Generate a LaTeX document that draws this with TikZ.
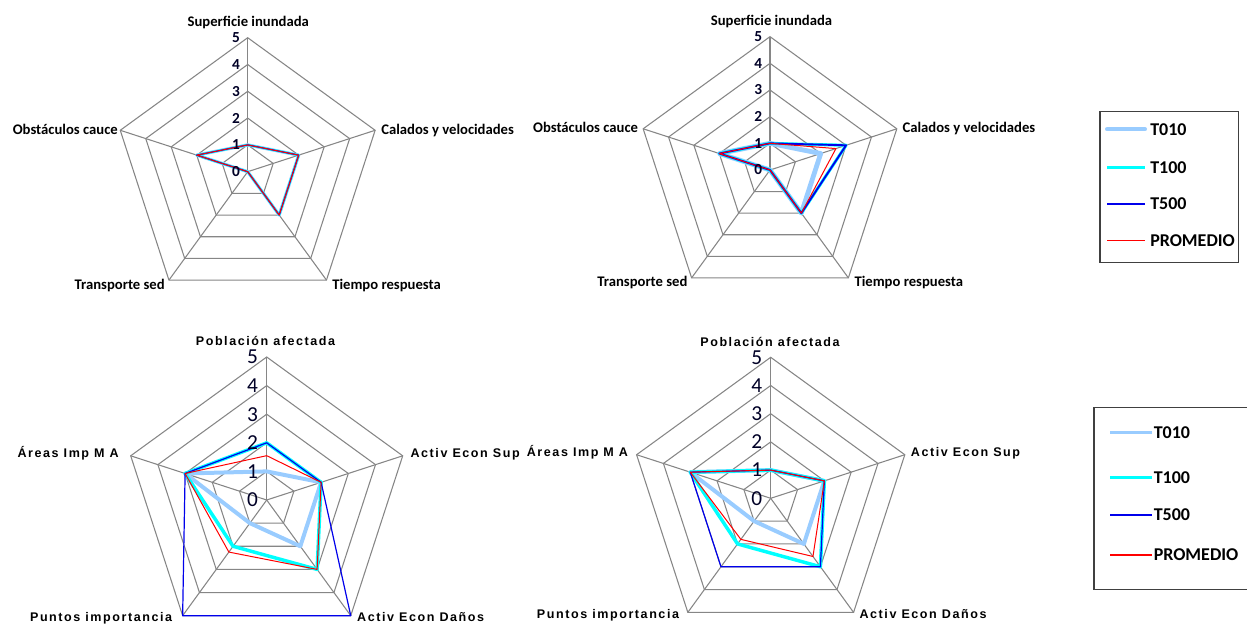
\documentclass[tikz,border=0pt]{standalone}
\usepackage{fontspec}
\setmainfont{Carlito}
\newfontfamily\arialsp[LetterSpace=12.5]{Liberation Sans}
\definecolor{lbc}{RGB}{153,204,255}
\definecolor{cyc}{RGB}{0,255,255}
\definecolor{blc}{RGB}{0,0,235}
\definecolor{rdc}{RGB}{255,0,0}
\definecolor{gridc}{RGB}{134,134,134}
\newcommand\radargrid[1]{%
  \foreach \k in {1,...,5}{\draw[gridline] (90:\k*#1) -- (18:\k*#1) -- (-54:\k*#1) -- (-126:\k*#1) -- (162:\k*#1) -- cycle;}
  \foreach \a in {90,18,-54,-126,162}{\draw[gridline] (0,0) -- (\a:5*#1);}
}
\newcommand\radarline[6]{\draw[#1] (90:#2) -- (18:#3) -- (-54:#4) -- (-126:#5) -- (162:#6) -- cycle;}
\begin{document}
\begin{tikzpicture}[x=0.75pt,y=-0.75pt,
  gridline/.style={draw=gridc, line width=0.8pt},
  ser/.style={line join=round},
  toplab/.style={font=\bfseries\fontsize{11}{13}\selectfont, inner sep=0pt},
  ticktop/.style={font=\bfseries\fontsize{11.5}{13}\selectfont, inner sep=0pt, anchor=east, text=black!85!blue},
  tickbot/.style={font=\fontsize{16}{18}\selectfont, inner sep=0pt, anchor=east, text=black!85!blue},
  botlab/.style={font=\arialsp\bfseries\fontsize{9.4}{11}\selectfont, inner sep=0pt},
  leg/.style={font=\bfseries\fontsize{13.5}{15}\selectfont, inner sep=0pt, anchor=west},
  legbox/.style={draw=black!75, line width=0.9pt}]
\path[use as bounding box] (0,0) rectangle (1247,625);

% ---------- Chart 1 ----------
\begin{scope}[shift={(247.7,171.7)},yscale=-1]
  \def\ur{26.8}
  \radargrid{\ur}
  \radarline{ser,lbc,line width=2.4pt}{1*\ur}{2*\ur}{2*\ur}{0}{2*\ur}
  \radarline{ser,cyc,line width=1.7pt}{1*\ur}{2*\ur}{2*\ur}{0}{2*\ur}
  \radarline{ser,blc,line width=0.9pt}{1*\ur}{2*\ur}{2*\ur}{0}{2*\ur}
  \radarline{ser,rdc,line width=0.75pt}{1*\ur}{2*\ur}{2*\ur}{0}{2*\ur}
  \foreach \k in {0,...,5}{\node[ticktop] (aT\k) at (-7.5,\k*\ur) {\k};}
\end{scope}
\node[toplab,anchor=base] (a0) at (248.3,26) {Superficie inundada};
\node[toplab,anchor=base west] (a1) at (381,134) {Calados y velocidades};
\node[toplab,anchor=base west] (a2) at (332,289) {Tiempo respuesta};
\node[toplab,anchor=base east] (a3) at (165,289) {Transporte sed};
\node[toplab,anchor=base east] (a4) at (118,134) {Obstáculos cauce};

% ---------- Chart 2 ----------
\begin{scope}[shift={(770,170)},yscale=-1]
  \def\ur{26.67}
  \radargrid{\ur}
  \radarline{ser,lbc,line width=3.6pt}{1*\ur}{2*\ur}{2*\ur}{0}{2*\ur}
  \radarline{ser,cyc,line width=2.3pt}{1*\ur}{3*\ur}{2*\ur}{0}{2*\ur}
  \radarline{ser,blc,line width=1.4pt}{1*\ur}{3*\ur}{2*\ur}{0}{2*\ur}
  \radarline{ser,rdc,line width=0.75pt}{1*\ur}{2.6*\ur}{2*\ur}{0}{2*\ur}
  \foreach \k in {0,...,5}{\node[ticktop] (bT\k) at (-7.5,\k*\ur) {\k};}
\end{scope}
\node[toplab,anchor=base] (b0) at (771.5,25) {Superficie inundada};
\node[toplab,anchor=base west] (b1) at (902.3,132.7) {Calados y velocidades};
\node[toplab,anchor=base west] (b2) at (854.3,286) {Tiempo respuesta};
\node[toplab,anchor=base east] (b3) at (687.7,286) {Transporte sed};
\node[toplab,anchor=base east] (b4) at (638.3,132.7) {Obstáculos cauce};

% ---------- Chart 3 ----------
\begin{scope}[shift={(266.7,500)},yscale=-1]
  \def\ur{28.6}
  \radargrid{\ur}
  \radarline{ser,lbc,line width=3pt}{1*\ur}{2*\ur}{2*\ur}{1*\ur}{3*\ur}
  \radarline{ser,cyc,line width=2.6pt}{2*\ur}{2*\ur}{3*\ur}{2*\ur}{3*\ur}
  \radarline{ser,blc,line width=0.9pt}{2*\ur}{2*\ur}{5*\ur}{5*\ur}{3*\ur}
  \radarline{ser,rdc,line width=0.75pt}{1.55*\ur}{2*\ur}{3*\ur}{2.25*\ur}{3*\ur}
  \foreach \k in {0,...,5}{\node[tickbot] (cT\k) at (-8.4,\k*\ur) {\k};}
\end{scope}
\node[botlab,anchor=base] (c0) at (265.5,345.7) {Población afectada};
\node[botlab,anchor=base west] (c1) at (410.3,457.3) {Activ Econ Sup};
\node[botlab,anchor=base west] (c2) at (356.9,621.5) {Activ Econ Daños};
\node[botlab,anchor=base east] (c3) at (172.4,621.5) {Puntos importancia};
\node[botlab,anchor=base east] (c4) at (119,457.3) {Áreas Imp M A};

% ---------- Chart 4 ----------
\begin{scope}[shift={(770.7,498.3)},yscale=-1]
  \def\ur{28.2}
  \radargrid{\ur}
  \radarline{ser,lbc,line width=3pt}{1*\ur}{2*\ur}{2*\ur}{1*\ur}{3*\ur}
  \radarline{ser,cyc,line width=2.6pt}{1*\ur}{2*\ur}{3*\ur}{2*\ur}{3*\ur}
  \radarline{ser,blc,line width=0.9pt}{1*\ur}{2*\ur}{3*\ur}{3*\ur}{3*\ur}
  \radarline{ser,rdc,line width=0.75pt}{1*\ur}{2*\ur}{2.55*\ur}{1.8*\ur}{3*\ur}
  \foreach \k in {0,...,5}{\node[tickbot] (dT\k) at (-8.3,\k*\ur) {\k};}
\end{scope}
\node[botlab,anchor=base] (d0) at (770,346.7) {Población afectada};
\node[botlab,anchor=base west] (d1) at (910.7,456) {Activ Econ Sup};
\node[botlab,anchor=base west] (d2) at (859.3,618.3) {Activ Econ Daños};
\node[botlab,anchor=base east] (d3) at (679.3,618.3) {Puntos importancia};
\node[botlab,anchor=base east] (d4) at (628.3,456) {Áreas Imp M A};

% ---------- Legend top ----------
\draw[legbox] (1100,111.7) rectangle (1238.3,262.7);
\coordinate (la1) at (1107,129.3); \coordinate (lb1) at (1145,129.3);
\coordinate (la2) at (1107,167.7); \coordinate (lb2) at (1145,167.7);
\coordinate (la3) at (1107,204); \coordinate (lb3) at (1145,204);
\coordinate (la4) at (1107,240.7); \coordinate (lb4) at (1145,240.7);
\draw[lbc,line width=3pt,line cap=round] (la1) -- (lb1);
\draw[cyc,line width=2.6pt] (la2) -- (lb2);
\draw[blc,line width=1.2pt] (la3) -- (lb3);
\draw[rdc,line width=0.9pt] (la4) -- (lb4);
\node[leg] (lt1) at (1150,129.3) {T010};
\node[leg] (lt2) at (1150,167.7) {T100};
\node[leg] (lt3) at (1150,203.3) {T500};
\node[leg] (lt4) at (1150,240.7) {PROMEDIO};

% ---------- Legend bottom ----------
\draw[legbox] (1094,407.3) rectangle (1252,589.3);
\coordinate (ma1) at (1110,432.3); \coordinate (mb1) at (1151.7,432.3);
\coordinate (ma2) at (1110,477.3); \coordinate (mb2) at (1151.7,477.3);
\coordinate (ma3) at (1110,515); \coordinate (mb3) at (1151.7,515);
\coordinate (ma4) at (1110,555); \coordinate (mb4) at (1151.7,555);
\draw[lbc,line width=2.6pt] (ma1) -- (mb1);
\draw[cyc,line width=2.6pt] (ma2) -- (mb2);
\draw[blc,line width=1pt] (ma3) -- (mb3);
\draw[rdc,line width=0.9pt] (ma4) -- (mb4);
\node[leg] (mt1) at (1153.5,432.3) {T010};
\node[leg] (mt2) at (1153.5,477.3) {T100};
\node[leg] (mt3) at (1153.5,515) {T500};
\node[leg] (mt4) at (1153.5,555) {PROMEDIO};
\end{tikzpicture}
\end{document}
